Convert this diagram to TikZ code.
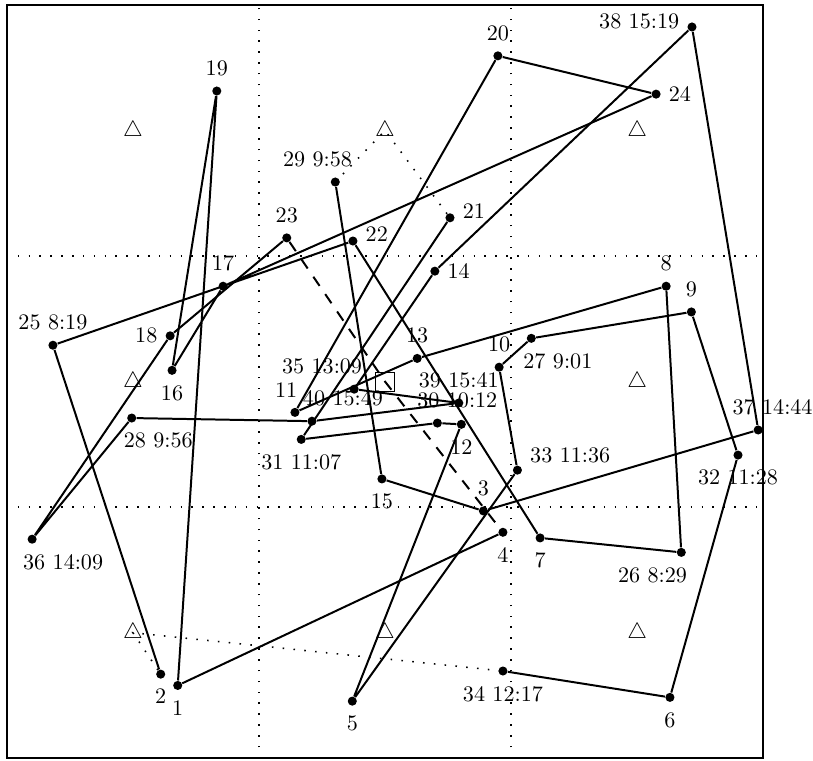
\documentclass[tikz,border=0pt]{standalone}
\usepackage{tikz}
\usetikzlibrary{positioning}
\tikzset{point/.style={circle,fill=black,inner sep=0pt,minimum size=4.1pt},tag/.style={inner sep=3.33pt},depot/.style={inner sep=0pt},hub/.style={draw,inner sep=0pt,minimum size=8.5pt},tour/.style={line width=.9pt},via/.style={line width=.7pt,dash pattern=on .7pt off 4.2pt},viadash/.style={line width=.9pt,dash pattern=on 5pt off 4.5pt},gridline/.style={line width=.7pt,dash pattern=on .7pt off 4.2pt}}
\begin{document}
\begin{tikzpicture}[x=1cm,y=.996cm]
        \useasboundingbox (-0.11,-0.03) rectangle (12.79,12.08);
        \draw[line width=.9pt] (0,0) rectangle (12,12);
        \draw[gridline] (4,0)--(4,12) (8,0)--(8,12) (0,4)--(12,4) (0,8)--(12,8);
        \node[depot] (dsw) at (2,2) {$\triangle$};
        \node[depot] (ds) at (6,2) {$\triangle$};
        \node[depot] (dse) at (10,2) {$\triangle$};
        \node[depot] (dw) at (2,6) {$\triangle$};
        \node[depot] (de) at (10,6) {$\triangle$};
        \node[depot] (dnw) at (2,10) {$\triangle$};
        \node[depot] (dn) at (6,10) {$\triangle$};
        \node[depot] (dne) at (10,10) {$\triangle$};
        \node[hub] (hub) at (6,6) {};
        \node[point] (p1) at (2.71,1.16) {}; \node[tag,below=1pt of p1] (t1) {1};
        \node[point] (p2) at (2.44,1.34) {}; \node[tag,below=1pt of p2] (t2) {2};
        \node[point] (p3) at (7.56,3.94) {}; \node[tag,above=1pt of p3] (t3) {3};
        \node[point] (p4) at (7.87,3.60) {}; \node[tag,below=1pt of p4] (t4) {4};
        \node[point] (p5) at (5.48,0.91) {}; \node[tag,below=1pt of p5] (t5) {5};
        \node[point] (p6) at (10.52,0.97) {}; \node[tag,below=1pt of p6] (t6) {6};
        \node[point] (p7) at (8.46,3.51) {}; \node[tag,below=1pt of p7] (t7) {7};
        \node[point] (p8) at (10.46,7.52) {}; \node[tag,above=1pt of p8] (t8) {8};
        \node[point] (p9) at (10.86,7.11) {}; \node[tag,above=1pt of p9] (t9) {9};
        \node[point] (p10) at (7.81,6.23) {}; \node[tag,above=1pt of p10] (t10) {10};
        \node[point] (p11) at (4.57,5.51) {}; \node[tag,above=1pt of p11,xshift=-4pt] (t11) {11};
        \node[point] (p12) at (7.21,5.32) {}; \node[tag,below=1pt of p12] (t12) {12};
        \node[point] (p13) at (6.51,6.37) {}; \node[tag,above=1pt of p13] (t13) {13};
        \node[point] (p14) at (6.79,7.76) {}; \node[tag,right=0pt of p14] (t14) {14};
        \node[point] (p15) at (5.95,4.45) {}; \node[tag,below=1pt of p15] (t15) {15};
        \node[point] (p16) at (2.62,6.18) {}; \node[tag,below=1pt of p16] (t16) {16};
        \node[point] (p17) at (3.43,7.52) {}; \node[tag,above=1pt of p17] (t17) {17};
        \node[point] (p18) at (2.59,6.73) {}; \node[tag,left=0pt of p18] (t18) {18};
        \node[point] (p19) at (3.33,10.63) {}; \node[tag,above=1pt of p19] (t19) {19};
        \node[point] (p20) at (7.79,11.19) {}; \node[tag,above=1pt of p20] (t20) {20};
        \node[point] (p21) at (7.03,8.61) {}; \node[tag,right=0pt of p21,yshift=3pt] (t21) {21};
        \node[point] (p22) at (5.49,8.24) {}; \node[tag,right=0pt of p22,yshift=3pt] (t22) {22};
        \node[point] (p23) at (4.44,8.29) {}; \node[tag,above=1pt of p23] (t23) {23};
        \node[point] (p24) at (10.30,10.58) {}; \node[tag,right=0pt of p24] (t24) {24};
        \node[point] (p25) at (0.73,6.58) {}; \node[tag,above=1pt of p25] (t25) {25 8:19};
        \node[point] (p26) at (10.70,3.28) {}; \node[tag,below=1pt of p26,xshift=-13pt] (t26) {26 8:29};
        \node[point] (p27) at (8.32,6.69) {}; \node[tag,below=1pt of p27,xshift=12pt] (t27) {27 9:01};
        \node[point] (p28) at (1.98,5.42) {}; \node[tag,below=1pt of p28,xshift=12pt] (t28) {28 9:56};
        \node[point] (p29) at (5.21,9.18) {}; \node[tag,above=1pt of p29,xshift=-8pt] (t29) {29 9:58};
        \node[point] (p30) at (6.83,5.34) {}; \node[tag,above=1pt of p30,xshift=9pt] (t30) {30 10:12};
        \node[point] (p31) at (4.67,5.08) {}; \node[tag,below=1pt of p31] (t31) {31 11:07};
        \node[point] (p32) at (11.60,4.83) {}; \node[tag,below=1pt of p32] (t32) {32 11:28};
        \node[point] (p33) at (8.10,4.59) {}; \node[tag,right=0pt of p33,yshift=6.8pt] (t33) {33 11:36};
        \node[point] (p34) at (7.87,1.39) {}; \node[tag,below=1pt of p34] (t34) {34 12:17};
        \node[point] (p35) at (5.51,5.88) {}; \node[tag,above=1pt of p35,xshift=-14.5pt] (t35) {35 13:09};
        \node[point] (p36) at (0.40,3.49) {}; \node[tag,below=1pt of p36,xshift=14pt] (t36) {36 14:09};
        \node[point] (p37) at (11.92,5.23) {}; \node[tag,above=1pt of p37,xshift=6.5pt] (t37) {37 14:44};
        \node[point] (p38) at (10.87,11.65) {}; \node[tag,left=0pt of p38,yshift=2.7pt] (t38) {38 15:19};
        \node[point] (p39) at (7.17,5.66) {}; \node[tag,above=1pt of p39] (t39) {39 15:41};
        \node[point] (p40) at (4.84,5.37) {}; \node[tag,above=1pt of p40,xshift=14pt] (t40) {40 15:49};
        \draw[tour] (p34)--(p6)--(p32)--(p9)--(p27)--(p10)--(p33)--(p5)--(p12)--(p30)--(p31)--(p21);
        \draw[tour] (p29)--(p15)--(p3)--(p37)--(p38)--(p14)--(p35)--(p39)--(p40)--(p28)--(p36)--(p18)--(p23);
        \draw[tour] (p4)--(p1)--(p19)--(p16)--(p17)--(p24)--(p20)--(p11)--(p13)--(p8)--(p26)--(p7)--(p22)--(p25)--(p2);
        \draw[via] (p2)--(dsw.center)--(p34);
        \draw[via] (p21)--(dn.center)--(p29);
        \draw[viadash] (p23)--(hub.center)--(p4);
      \end{tikzpicture}
\end{document}
